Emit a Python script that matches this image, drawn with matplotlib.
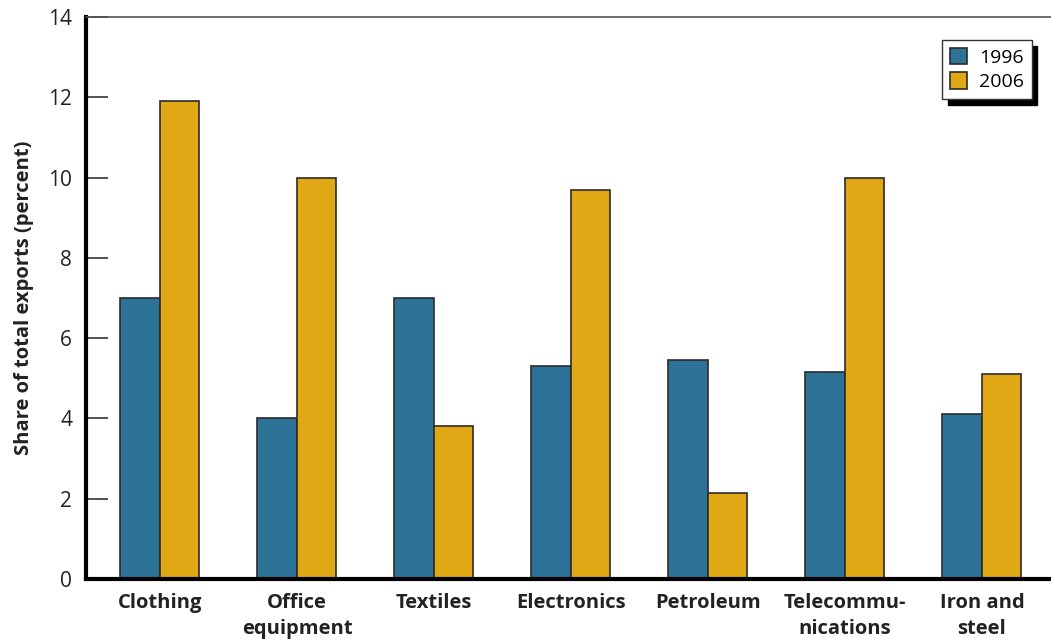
import matplotlib
matplotlib.use("Agg")
import matplotlib.pyplot as plt
import numpy as np

plt.rcParams["font.family"] = ["Open Sans", "DejaVu Sans"]

categories = ["Clothing", "Office\nequipment", "Textiles", "Electronics",
              "Petroleum", "Telecommu-\nnications", "Iron and\nsteel"]
share_1996 = [7.0, 4.0, 7.0, 5.3, 5.45, 5.15, 4.1]
share_2006 = [11.9, 10.0, 3.8, 9.7, 2.15, 10.0, 5.1]

BLUE = "#2c7397"
GOLD = "#e0a814"
EDGE = "#2b2b2b"

fig = plt.figure(figsize=(10.51, 6.41), dpi=100)
ax = fig.add_axes([0.0818, 0.0967, 0.9182, 0.8768])

x = np.arange(len(categories))
w = 0.288
ax.bar(x - w / 2, share_1996, w, color=BLUE, edgecolor=EDGE, lw=1.2,
       label="1996", zorder=2)
ax.bar(x + w / 2, share_2006, w, color=GOLD, edgecolor=EDGE, lw=1.2,
       label="2006", zorder=2)

ax.set_xlim(-0.54, 6.504)
ax.set_ylim(0, 14)
ax.set_yticks(range(0, 15, 2))
ax.set_xticks(x)
ax.set_xticklabels(categories, fontsize=14.5, fontweight="bold",
                   color="#222222", linespacing=1.4)
ax.tick_params(axis="x", length=0, pad=10)
ax.tick_params(axis="y", direction="in", length=16, width=1.2,
               color="#333333", labelsize=15, labelcolor="#222222", pad=10)

for s in ("left", "bottom"):
    ax.spines[s].set_linewidth(3)
    ax.spines[s].set_color("black")
ax.spines["right"].set_visible(False)
ax.spines["top"].set_color("#555555")
ax.spines["top"].set_linewidth(1.2)

ax.set_ylabel("Share of total exports (percent)", fontsize=14.5,
              fontweight="bold", color="#222222", labelpad=10)

leg = ax.legend(loc="upper right", bbox_to_anchor=(0.980, 0.959),
                borderaxespad=0, fontsize=14, fancybox=False,
                shadow={"color": "black", "alpha": 1.0, "ox": 4, "oy": -4},
                handlelength=0.9, handleheight=0.9, handletextpad=0.6,
                borderpad=0.4, labelspacing=0.3)
leg.get_frame().set_edgecolor("#333333")
leg.get_frame().set_linewidth(1.0)
leg.get_frame().set_alpha(1.0)

fig.savefig("out.png", dpi=100)
